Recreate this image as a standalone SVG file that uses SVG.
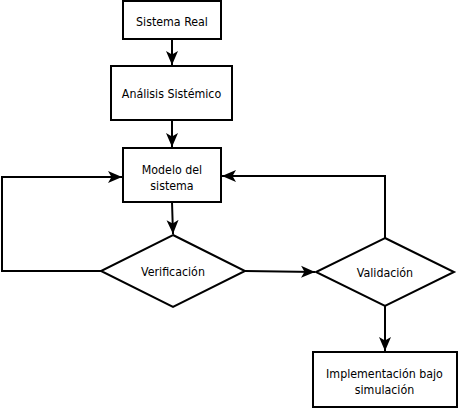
<svg xmlns="http://www.w3.org/2000/svg" width="458" height="408" viewBox="0 0 458 408">
<style>
.n{fill:#fff;stroke:#000;stroke-width:2}
.t{font-family:"DejaVu Sans Condensed","DejaVu Sans",sans-serif;font-stretch:condensed;font-size:12.3px;fill:#000;text-anchor:middle}
.c{fill:none;stroke:#000;stroke-width:2;marker-end:url(#a)}
</style>
<defs>
<marker id="a" viewBox="-14 -7 15 14" refX="0" refY="0" markerWidth="15" markerHeight="14" markerUnits="userSpaceOnUse" orient="auto">
<path d="M-14,-6 L0,0 L-14,6 L-10.5,0 Z" fill="#000"/>
</marker>
</defs>
<g id="connectors">
<path class="c" d="M172,39 V65"/>
<path class="c" d="M172,120 V147"/>
<path class="c" d="M172,202 L173,234"/>
<path class="c" d="M101,271 H2 V177 H122"/>
<path class="c" d="M245,271 L315,272"/>
<path class="c" d="M385,238 V176 H222"/>
<path class="c" d="M385,306 V351"/>
</g>
<g id="sistema-real"><rect class="n" x="123" y="1" width="98" height="38"/><text class="t" x="172" y="25.5">Sistema Real</text></g>
<g id="analisis"><rect class="n" x="111" y="66" width="121" height="54"/><text class="t" x="171.5" y="98">Análisis Sistémico</text></g>
<g id="modelo"><rect class="n" x="123" y="148" width="98" height="54"/><text class="t" x="172" y="174">Modelo del</text><text class="t" x="172" y="190">sistema</text></g>
<g id="verificacion"><path class="n" d="M173,235 L245,271 L173,307 L101,271 Z"/><text class="t" x="173" y="276">Verificación</text></g>
<g id="validacion"><path class="n" d="M385,238 L454,272 L385,306 L316,272 Z"/><text class="t" x="385" y="276.5">Validación</text></g>
<g id="implementacion"><rect class="n" x="313" y="352" width="144" height="55"/><text class="t" x="384.5" y="378">Implementación bajo</text><text class="t" x="384.5" y="394">simulación</text></g>
</svg>
